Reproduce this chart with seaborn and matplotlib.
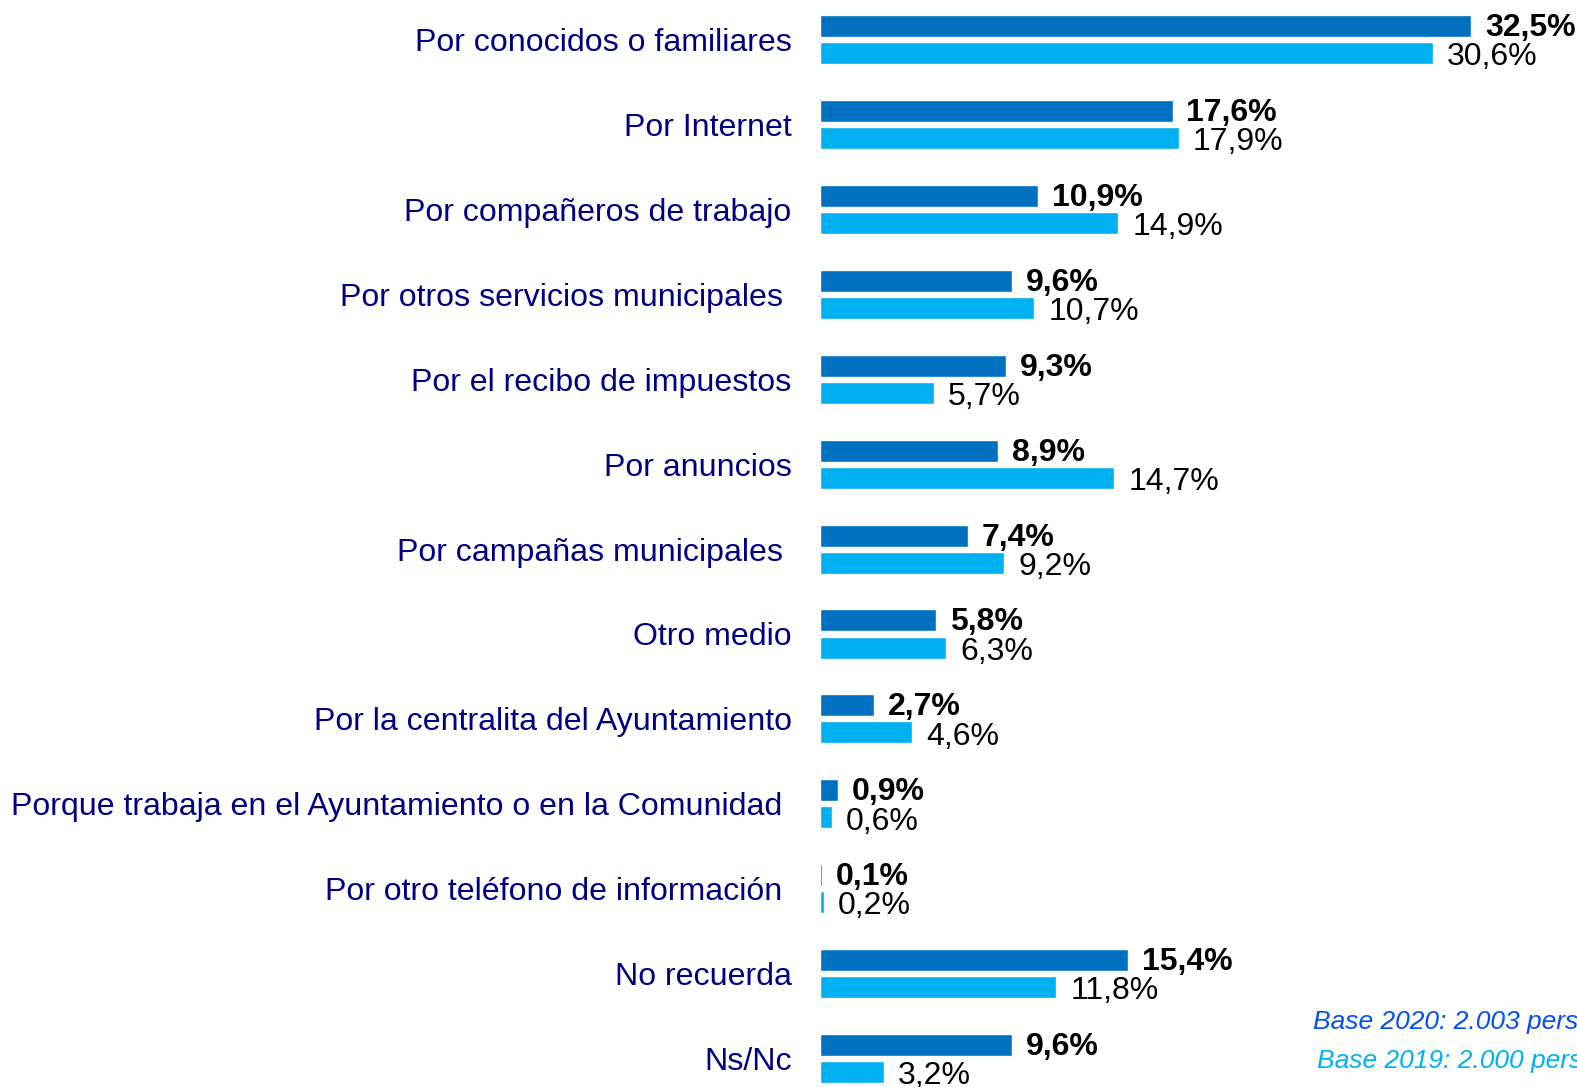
import matplotlib
matplotlib.use("Agg")
import matplotlib.pyplot as plt
import seaborn as sns
import pandas as pd

categories = [
    "Por conocidos o familiares",
    "Por Internet",
    "Por compañeros de trabajo",
    "Por otros servicios municipales ",
    "Por el recibo de impuestos",
    "Por anuncios",
    "Por campañas municipales ",
    "Otro medio",
    "Por la centralita del Ayuntamiento",
    "Porque trabaja en el Ayuntamiento o en la Comunidad ",
    "Por otro teléfono de información ",
    "No recuerda",
    "Ns/Nc",
]
values_2020 = [32.5, 17.6, 10.9, 9.6, 9.3, 8.9, 7.4, 5.8, 2.7, 0.9, 0.1, 15.4, 9.6]
values_2019 = [30.6, 17.9, 14.9, 10.7, 5.7, 14.7, 9.2, 6.3, 4.6, 0.6, 0.2, 11.8, 3.2]
years = ["2020", "2019"]
base_texts = ["Base 2020: 2.003 personas", "Base 2019: 2.000 personas"]

df = pd.DataFrame({
    "cat": categories * 2,
    "val": values_2020 + values_2019,
    "year": ["2020"] * len(categories) + ["2019"] * len(categories),
})

sns.set_theme(style="white")
plt.rcParams["font.family"] = ["Liberation Sans", "DejaVu Sans"]

W, H = 1577, 1087
fig = plt.figure(figsize=(W / 100, H / 100), dpi=100)
ax = fig.add_axes([820 / W, 0, (W - 820) / W, 1])

palette = {"2020": "#0070C0", "2019": "#00B0F0"}
sns.barplot(data=df, y="cat", x="val", hue="year", hue_order=years,
            palette=palette, orient="h", width=0.64, gap=0.19,
            saturation=1, legend=False, ax=ax, order=categories)

ax.set_xlim(0, 757 / 20.03)
ax.set_ylim(12 + (H - 1058.5) / 84.9, -39.7 / 84.9)

for c, weight, dy in zip(ax.containers, ["bold", "normal"], [1.5, 3.0]):
    labels = [f"{v:.1f}".replace(".", ",") + "%" for v in c.datavalues]
    txts = ax.bar_label(c, labels=labels, padding=10, fontsize=23,
                        fontweight=weight, color="black")
    for t in txts:
        t.set_va("center")
        t.xyann = (10, -dy)

for s in ax.spines.values():
    s.set_visible(False)
ax.set_xlabel("")
ax.set_ylabel("")
ax.set_xticks([])
ax.tick_params(axis="y", length=0, pad=20.5, labelsize=23.1, labelcolor="#000080")

fig.text(1313 / W, 1 - 1022 / H, base_texts[0], fontsize=19, style="italic",
         color="#0050EF", va="center", ha="left")
fig.text(1317 / W, 1 - 1061 / H, base_texts[1], fontsize=19, style="italic",
         color="#00B0F0", va="center", ha="left")

fig.savefig("out.png", dpi=100)
